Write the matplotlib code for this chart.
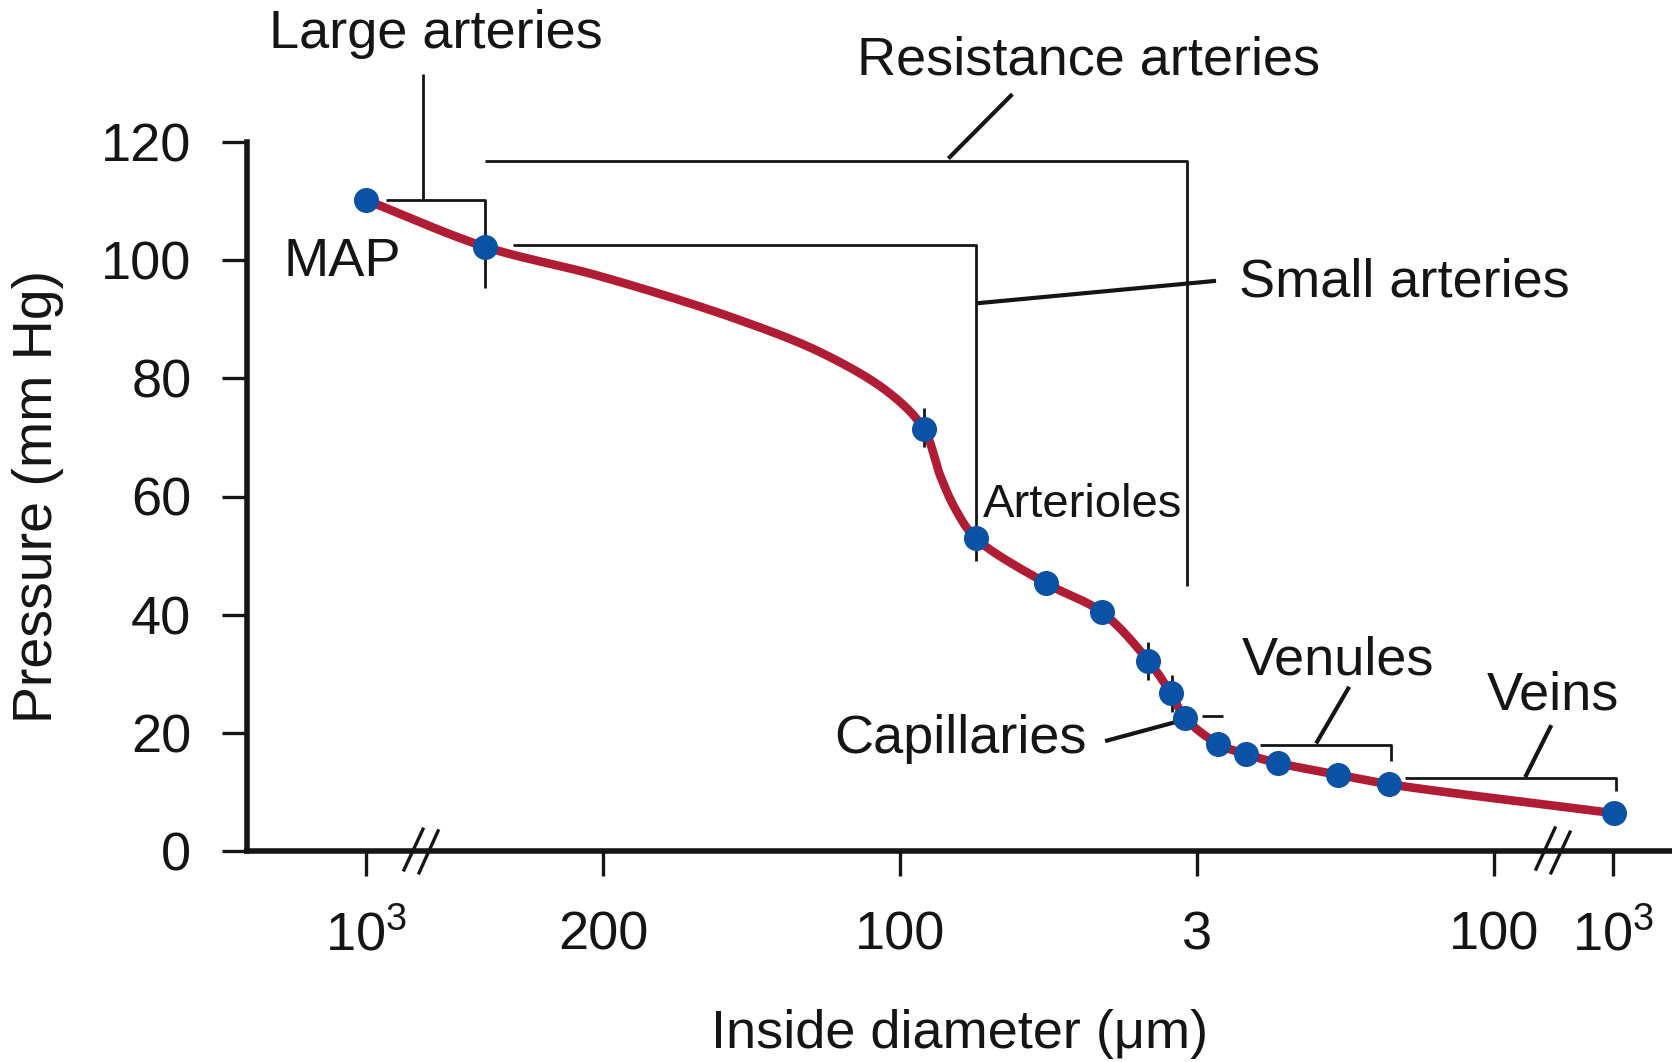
import numpy as np
import matplotlib
matplotlib.use("Agg")
import matplotlib.pyplot as plt

plt.rcParams['font.family'] = ['Liberation Sans', 'DejaVu Sans']
plt.rcParams['mathtext.fontset'] = 'custom'
plt.rcParams['mathtext.rm'] = 'Liberation Sans'

# ---------------- data ----------------
# x = position along the (non-linear) diameter axis, y = pressure (mm Hg)
point_x = [0.0, 1.0, 4.70, 5.14, 5.73, 6.20, 6.59, 6.78, 6.90, 7.18, 7.41, 7.68, 8.19, 8.62, 10.51]
point_y = [110.2, 102.3, 71.4, 52.9, 45.3, 40.4, 32.2, 26.7, 22.5, 18.1, 16.4, 14.9, 12.9, 11.3, 6.4]

# trace of the smooth curve (markers plus extra points)
curve_x = [0.0, 1.0, 1.97, 3.10, 3.85, 4.41, 4.70, 4.84, 4.97, 5.14, 5.73, 6.20, 6.59,
           6.78, 6.90, 7.18, 7.41, 7.68, 8.19, 8.62, 10.51]
curve_y = [110.2, 102.3, 97.3, 90.2, 84.2, 77.5, 71.4, 63.4, 57.7, 52.9, 45.3, 40.4, 32.2,
           26.7, 22.5, 18.1, 16.4, 14.9, 12.9, 11.3, 6.4]

xtick_pos = [0, 2, 4.5, 7, 9.5, 10.5]
xtick_labels = [r'$\mathregular{10^3}$', '200', '100', '3', '100', r'$\mathregular{10^3}$']
ytick_vals = [0, 20, 40, 60, 80, 100, 120]

CURVE_COLOR = '#B11C35'
POINT_COLOR = '#0A52A5'
INK = '#151515'

# ---------------- smoothing helper (centripetal Catmull-Rom) ----------------
SX, SY = 118.75, 5.908  # pixel scale per unit, for isotropic smoothing


def catmull_rom(xs, ys, n=40, alpha=0.5):
    P = np.column_stack([np.asarray(xs) * SX, np.asarray(ys) * SY])
    P = np.vstack([2 * P[0] - P[1], P, 2 * P[-1] - P[-2]])
    out = []
    for i in range(1, len(P) - 2):
        p0, p1, p2, p3 = P[i - 1], P[i], P[i + 1], P[i + 2]
        t0 = 0.0
        t1 = t0 + np.linalg.norm(p1 - p0) ** alpha
        t2 = t1 + np.linalg.norm(p2 - p1) ** alpha
        t3 = t2 + np.linalg.norm(p3 - p2) ** alpha
        t = np.linspace(t1, t2, n)[:, None]
        A1 = (t1 - t) / (t1 - t0) * p0 + (t - t0) / (t1 - t0) * p1
        A2 = (t2 - t) / (t2 - t1) * p1 + (t - t1) / (t2 - t1) * p2
        A3 = (t3 - t) / (t3 - t2) * p2 + (t - t2) / (t3 - t2) * p3
        B1 = (t2 - t) / (t2 - t0) * A1 + (t - t0) / (t2 - t0) * A2
        B2 = (t3 - t) / (t3 - t1) * A2 + (t - t1) / (t3 - t1) * A3
        C = (t2 - t) / (t2 - t1) * B1 + (t - t1) / (t2 - t1) * B2
        out.append(C if i == 1 else C[1:])
    C = np.vstack(out)
    return C[:, 0] / SX, C[:, 1] / SY


# ---------------- figure ----------------
fig = plt.figure(figsize=(16.72, 10.62), dpi=100)
ax = fig.add_axes([247 / 1672, 211 / 1062, 1425 / 1672, 709 / 1062])
ax.set_xlim(-1, 11)
ax.set_ylim(0, 120)

for s in ['top', 'right']:
    ax.spines[s].set_visible(False)
for s in ['left', 'bottom']:
    ax.spines[s].set_linewidth(4.0)
    ax.spines[s].set_color(INK)
    ax.spines[s].set_capstyle('projecting')

ax.set_yticks(ytick_vals)
ax.set_yticklabels([str(v) for v in ytick_vals])
ax.set_xticks(xtick_pos)
ax.set_xticklabels(xtick_labels)
ax.tick_params(axis='both', direction='out', length=18, width=2.4, color=INK,
               labelsize=39, labelcolor=INK)
ax.tick_params(axis='y', pad=22)
ax.tick_params(axis='x', pad=53)
for lbl in ax.get_xticklabels():
    lbl.set_va('baseline')

ax.set_xlabel('Inside diameter (\u03bcm)', fontsize=39, color=INK, va='baseline')
ax.xaxis.set_label_coords(0.5, -(1048 - 851) / 709)
ax.set_ylabel('Pressure (mm Hg)', fontsize=40, color=INK, va='baseline',
              rotation=90, rotation_mode='anchor')
ax.yaxis.set_label_coords((52 - 247) / 1425, 0.5)

# curve and points
cx, cy = catmull_rom(curve_x, curve_y)
ax.plot(cx, cy, color=CURVE_COLOR, lw=6.2, solid_capstyle='round', zorder=3)
ax.plot(point_x, point_y, 'o', color=POINT_COLOR, markersize=17, zorder=4)

# ---------------- annotations ----------------
LW = 2.0
LL = 3.0
kw = dict(color=INK, lw=LW, clip_on=False, zorder=2, solid_capstyle='butt')
kl = dict(color=INK, lw=LL, clip_on=False, zorder=2, solid_capstyle='butt')
tk = dict(color=INK, fontsize=39, clip_on=False)

# Large arteries
ax.plot([0.171, 1.007, 1.007], [110.2, 110.2, 95.3], **kw)
ax.plot([0.485, 0.485], [110.2, 131.5], **kw)
ax.text(0.592, 135.9, 'Large arteries', ha='center', va='baseline', **tk)
ax.text(-0.69, 97.3, 'MAP', ha='left', va='baseline', **tk)

# Resistance arteries
ax.plot([1.007, 6.918, 6.918], [116.8, 116.8, 44.8], **kw)
ax.plot([4.906, 5.445], [117.2, 128.1], **kl)
ax.text(6.083, 131.5, 'Resistance arteries', ha='center', va='baseline', **tk)

# Small arteries
ax.plot([1.240, 5.139, 5.139], [102.5, 102.5, 49.0], **kw)
ax.plot([5.145, 7.160], [92.7, 96.5], **kl)
ax.text(8.745, 93.8, 'Small arteries', ha='center', va='baseline', **tk)

# Arterioles
ax.text(6.036, 56.6, 'Arterioles', ha='center', va='baseline', color=INK, fontsize=34)

# small ticks on the curve
ax.plot([4.702, 4.702], [74.9, 68.4], **kw)
ax.plot([6.590, 6.590], [35.4, 28.9], **kw)
ax.plot([6.787, 6.787], [29.8, 23.6], **kw)
ax.plot([7.040, 7.222], [22.85, 22.85], **kw)

# Capillaries
ax.plot([6.226, 6.816], [18.6, 21.8], **kl)
ax.text(5.009, 16.6, 'Capillaries', ha='center', va='baseline', **tk)

# Venules
ax.plot([7.529, 8.632, 8.632], [17.9, 17.9, 15.2], **kw)
ax.plot([8.003, 8.282], [18.2, 27.8], **kl)
ax.text(8.188, 29.9, 'Venules', ha='center', va='baseline', **tk)

# Veins
ax.plot([8.749, 10.525, 10.525], [12.3, 12.3, 10.2], **kw)
ax.plot([9.764, 9.984], [12.5, 21.3], **kl)
ax.text(9.998, 24.0, 'Veins', ha='center', va='baseline', **tk)

# axis break marks
bk = dict(color=INK, lw=2.4, clip_on=False, zorder=5)
ax.plot([0.322, 0.482], [-3.2, 3.7], **bk)
ax.plot([0.449, 0.609], [-3.7, 3.4], **bk)
ax.plot([9.855, 10.015], [-3.05, 3.9], **bk)
ax.plot([9.981, 10.141], [-3.7, 3.2], **bk)

fig.savefig('out.png', dpi=100, facecolor='white')
